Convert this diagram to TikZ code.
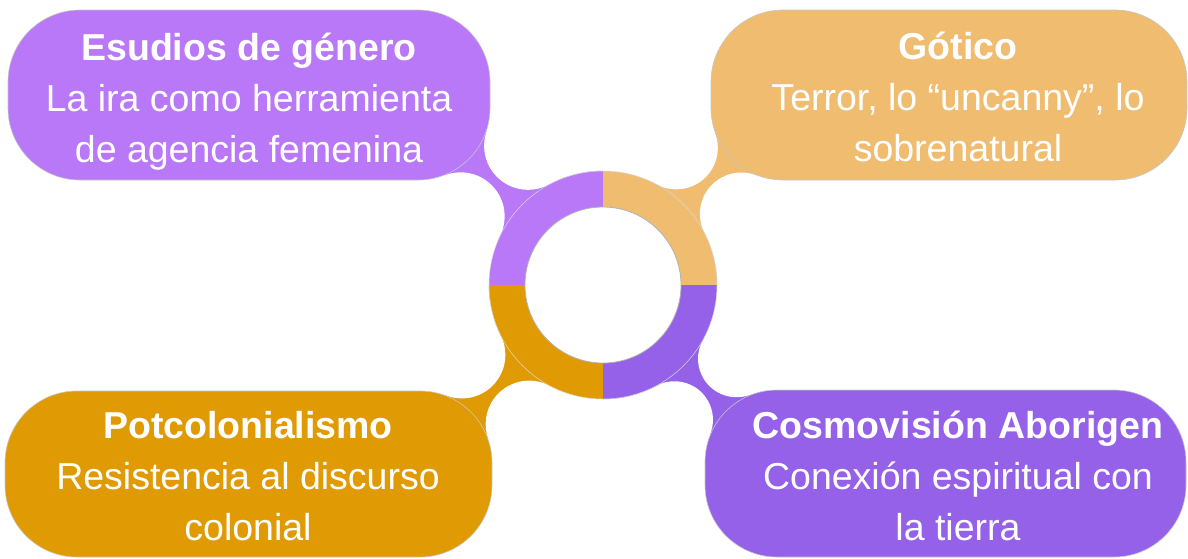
\documentclass[tikz,border=0pt]{standalone}
\usepackage{fontspec}
\setmainfont{Liberation Sans}
\usetikzlibrary{intersections}

\definecolor{gencol}{HTML}{B978F8}
\definecolor{gotcol}{HTML}{F0BC70}
\definecolor{poscol}{HTML}{E09A04}
\definecolor{coscol}{HTML}{9461E8}

\pgfdeclarelayer{background}
\pgfsetlayers{background,main}

\begin{document}
\begin{tikzpicture}[
  x=1pt, y=-1pt,
  box/.style={rounded corners=72pt, draw=black!22, line width=0.6pt, inner sep=0pt},
  lbl/.style={text=white, align=center, inner sep=0pt, font=\fontsize{37.5}{51}\selectfont}
]
  \useasboundingbox (0,0) rectangle (1188,558);

  \node[circle, minimum size=228pt, inner sep=0pt] (ring) at (603,285) {};
  \node[box, fill=gencol, minimum width=482pt, minimum height=170pt] (gen) at (249,95) {};
  \node[box, fill=gotcol, minimum width=476pt, minimum height=170pt] (got) at (949,95) {};
  \node[box, fill=poscol, minimum width=487pt, minimum height=166pt] (pos) at (248.5,474) {};
  \node[box, fill=coscol, minimum width=481pt, minimum height=167pt] (cos) at (945.5,473.5) {};

  \coordinate (genK) at ([shift={(-72,-72)}]gen.south east);
  \coordinate (gotK) at ([shift={(72,-72)}]got.south west);
  \coordinate (posK) at ([shift={(-72,72)}]pos.north east);
  \coordinate (cosK) at ([shift={(72,72)}]cos.north west);

  \foreach \bx/\rr/\col in {gen/44/gencol, got/41.5/gotcol, pos/43.5/poscol, cos/38.5/coscol} {
    \path[name path=kc] (\bx K) circle[radius=72pt+\rr pt];
    \path[name path=rc] (ring.center) circle[radius=114pt+\rr pt];
    \path[name intersections={of=kc and rc, name=\bx F}];
    \begin{pgfonlayer}{background}
      \fill[\col] (\bx K) -- (\bx F-1) -- (ring.center) -- (\bx F-2) -- cycle;
      \fill[white] (\bx F-1) circle[radius=\rr pt];
      \fill[white] (\bx F-2) circle[radius=\rr pt];
    \end{pgfonlayer}
  }

  \fill[gencol] (ring.center) -- (ring.north) arc[start angle=90, end angle=180, radius=114pt] -- cycle;
  \fill[gotcol] (ring.center) -- (ring.east) arc[start angle=0, end angle=90, radius=114pt] -- cycle;
  \fill[coscol] (ring.center) -- (ring.south) arc[start angle=270, end angle=360, radius=114pt] -- cycle;
  \fill[poscol] (ring.center) -- (ring.west) arc[start angle=180, end angle=270, radius=114pt] -- cycle;
  \draw[black!15, line width=0.5pt] (ring.center) circle[radius=114pt];
  \node[circle, fill=white, draw=black!30, line width=0.8pt, minimum size=156pt, inner sep=0pt] (hole) at (ring.center) {};

  \node[lbl] (genlbl) at (249,102) {\textbf{Esudios de género}\\La ira como herramienta\\de agencia femenina};
  \node[lbl] (gotlbl) at (958,97) {\textbf{Gótico}\\Terror, lo “uncanny”, lo\\sobrenatural};
  \node[lbl] (poslbl) at (248,476) {\textbf{Potcolonialismo}\\Resistencia al discurso\\colonial};
  \node[lbl] (coslbl) at (958,476) {\textbf{Cosmovisión Aborigen}\\Conexión espiritual con\\la tierra};
\end{tikzpicture}
\end{document}
